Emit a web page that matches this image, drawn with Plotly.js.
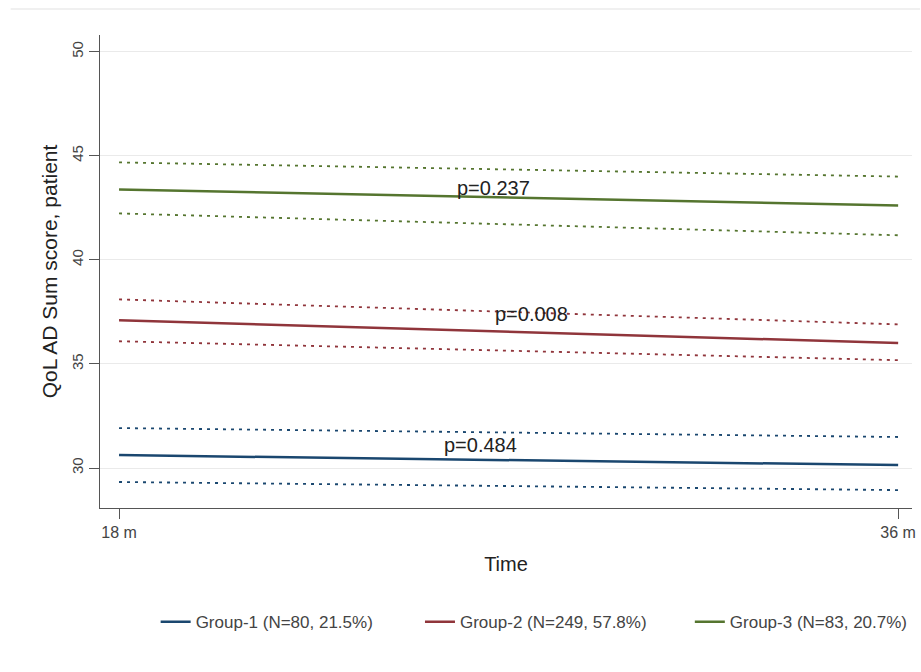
<!DOCTYPE html>
<html>
<head>
<meta charset="utf-8">
<script src="https://cdn.plot.ly/plotly-3.0.1.min.js"></script>
<style>html,body{margin:0;padding:0;background:#fff;}#chart{width:921px;height:672px;}</style>
</head>
<body>
<div id="chart"></div>
<script>
// Data
const timePoints = [18, 36];
const xTickVals = [18, 36];
const xTickText = ["18 m", "36 m"];
const yTickVals = [30, 35, 40, 45, 50];

const groupNames = ["Group-1 (N=80, 21.5%)", "Group-2 (N=249, 57.8%)", "Group-3 (N=83, 20.7%)"];
const g1Mean = [30.62, 30.14];
const g1Upper = [31.92, 31.49];
const g1Lower = [29.33, 28.94];
const g2Mean = [37.10, 36.00];
const g2Upper = [38.10, 36.90];
const g2Lower = [36.09, 35.18];
const g3Mean = [43.38, 42.61];
const g3Upper = [44.68, 44.00];
const g3Lower = [42.23, 41.18];

const pLabels = ["p=0.484", "p=0.008", "p=0.237"];
const pX = [26.34, 27.54, 26.64];
const pY = [31.11, 37.38, 43.45];

const colors = ["#1a476f", "#90353b", "#55752f"];
const means = [g1Mean, g2Mean, g3Mean];
const uppers = [g1Upper, g2Upper, g3Upper];
const lowers = [g1Lower, g2Lower, g3Lower];
const legendIds = ["legend", "legend2", "legend3"];
const legendX = [0.169, 0.456, 0.749];

const traces = [];
for (let i = 0; i < 3; i++) {
  traces.push({x: timePoints, y: means[i], mode: "lines", name: groupNames[i], legend: legendIds[i],
    line: {color: colors[i], width: 2.5}, showlegend: true, hoverinfo: "skip"});
  traces.push({x: timePoints, y: uppers[i], mode: "lines", showlegend: false,
    line: {color: colors[i], width: 1.8, dash: "3px,5px"}, hoverinfo: "skip"});
  traces.push({x: timePoints, y: lowers[i], mode: "lines", showlegend: false,
    line: {color: colors[i], width: 1.8, dash: "3px,5px"}, hoverinfo: "skip"});
}

const annotations = pLabels.map((t, i) => ({
  x: pX[i], y: pY[i], xref: "x", yref: "y", text: t, showarrow: false,
  font: {family: "Liberation Sans, Arial, sans-serif", size: 20, color: "#222"}
}));

function legendCfg(x) {
  return {
    orientation: "h", xref: "container", yref: "container",
    x: x, y: 0.074, xanchor: "left", yanchor: "middle",
    font: {size: 17, color: "#444"}, bgcolor: "rgba(0,0,0,0)"
  };
}

const layout = {
  width: 921, height: 672,
  margin: {l: 100, r: 9, t: 35, b: 164},
  paper_bgcolor: "#ffffff",
  plot_bgcolor: "#ffffff",
  font: {family: "Liberation Sans, Arial, sans-serif", color: "#444"},
  showlegend: true,
  legend: legendCfg(legendX[0]),
  legend2: legendCfg(legendX[1]),
  legend3: legendCfg(legendX[2]),
  xaxis: {
    range: [17.56, 36.32],
    tickvals: xTickVals, ticktext: xTickText,
    ticks: "outside", ticklen: 10, tickcolor: "#555",
    showline: true, linecolor: "#555", linewidth: 1,
    showgrid: false, zeroline: false,
    tickfont: {size: 16, color: "#444"},
    title: {text: "Time", font: {size: 20, color: "#222"}, standoff: 16}
  },
  yaxis: {
    range: [28.08, 50.8],
    tickvals: yTickVals, tickangle: -90,
    ticks: "outside", ticklen: 10, tickcolor: "#555",
    showline: true, linecolor: "#555", linewidth: 1,
    showgrid: true, gridcolor: "#eaeaea", gridwidth: 1,
    zeroline: false,
    tickfont: {size: 15, color: "#444"},
    title: {text: "QoL AD Sum score, patient", font: {size: 21, color: "#222"}, standoff: 5}
  },
  annotations: annotations,
  shapes: [{type: "line", xref: "paper", yref: "paper", x0: -0.11, x1: 1.01, y0: 1.055, y1: 1.055,
    line: {color: "#f0f0f0", width: 2}}]
};

Plotly.newPlot("chart", traces, layout, {displayModeBar: false, staticPlot: true});
</script>
</body>
</html>
